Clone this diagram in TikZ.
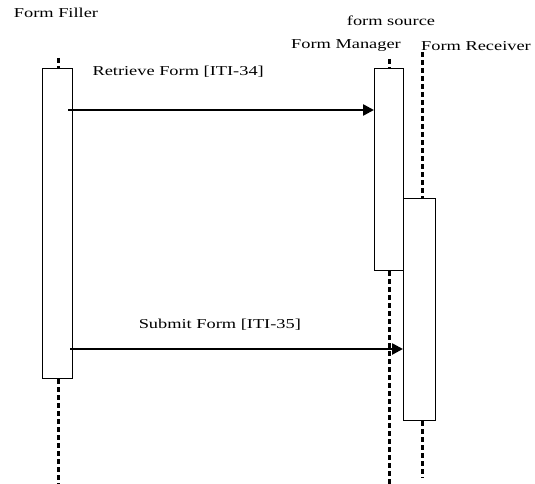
\documentclass[tikz,border=0pt]{standalone}
\usepackage{fontspec}
\setmainfont{Liberation Serif}[FakeStretch=1.35]
\usetikzlibrary{arrows.meta}
\begin{document}
\begin{tikzpicture}[x=1pt, y=-1pt, >={Triangle[length=11pt,width=11pt]},
  act box/.style={draw, line width=1.2pt, fill=white, inner sep=0pt, anchor=north west},
  life line/.style={line width=3pt, dash pattern=on 5pt off 3pt},
  msg/.style={->, line width=2.5pt},
  lbl/.style={font=\fontsize{13.6}{16}\selectfont, inner sep=0pt}]
\useasboundingbox (0,0) rectangle (535,484);

\node [lbl](filler name) at (56,13) {Form Filler};
\node [lbl](source name) at (391,21) {form source};
\node [lbl](manager name) at (346,46) {Form Manager};
\node [lbl](receiver name) at (476,46) {Form Receiver};

% lifelines
\coordinate (filler top) at (58,58);
\coordinate (filler end) at (58,484);
\coordinate (manager top) at (389,59);
\coordinate (manager end) at (389,484);
\coordinate (receiver top) at (422,52);
\coordinate (receiver end) at (422,478);

\node [act box, minimum width=30pt, minimum height=310pt](filler) at (42,68) {};
\node [act box, minimum width=29pt, minimum height=202pt](manager) at (374,68) {};
\node [act box, minimum width=32pt, minimum height=222pt](receiver) at (403,198) {};

\draw [life line] (filler top) -- (filler top |- filler.north);
\draw [life line] (filler top |- filler.south) -- (filler end);
\draw [life line] (manager top) -- (manager top |- manager.north);
\draw [life line] (manager top |- manager.south) -- (manager end);
\draw [life line] (receiver top) -- (receiver top |- receiver.north);
\draw [life line] (receiver top |- receiver.south) -- (receiver end);

% messages
\coordinate (retrieve) at (68,110);
\coordinate (submit) at (70,349);
\draw [msg] (retrieve) -- (manager.west |- retrieve) node[lbl, pos=0.36, yshift=38pt]{Retrieve Form [ITI-34]};
\draw [msg] (submit) -- (receiver.west |- submit) node[lbl, pos=0.45, yshift=24pt]{Submit Form [ITI-35]};
\end{tikzpicture}
\end{document}
